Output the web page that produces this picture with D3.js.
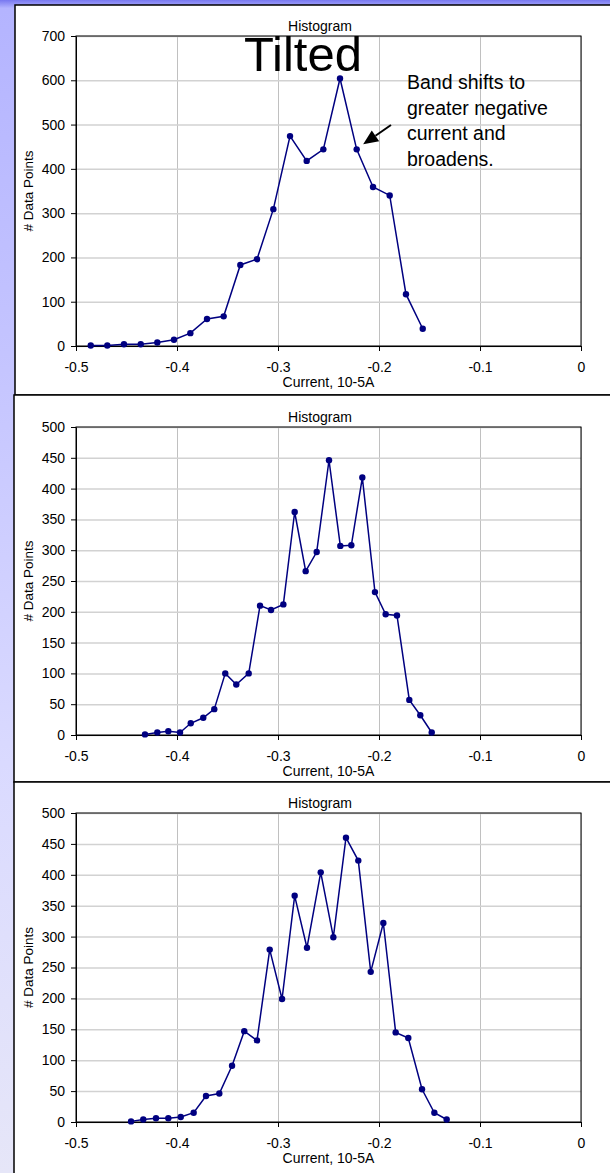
<!DOCTYPE html>
<html>
<head>
<meta charset="utf-8">
<script src="https://cdn.jsdelivr.net/npm/d3@7"></script>
<style>
  body { margin: 0; }
  svg text { font-family: "Liberation Sans", Arial, sans-serif; fill: #000; }
</style>
</head>
<body>
<svg width="610" height="1173"></svg>
<script>
// values
const xTicks = [-0.5, -0.4, -0.3, -0.2, -0.1, 0];
const xTickLabels = ['-0.5', '-0.4', '-0.3', '-0.2', '-0.1', '0'];
const yTicksTop = [0, 100, 200, 300, 400, 500, 600, 700];
const yTicksLower = [0, 50, 100, 150, 200, 250, 300, 350, 400, 450, 500];

const tiltedCurrent = [-0.4854, -0.469, -0.4525, -0.4359, -0.4195, -0.403, -0.3868, -0.3703,
  -0.3538, -0.3373, -0.3208, -0.3046, -0.2881, -0.2716, -0.2551, -0.2386, -0.2221, -0.2059,
  -0.1894, -0.1733, -0.1567];
const tiltedCounts = [1, 1, 4, 4, 8, 14, 29, 61, 67, 183, 196, 309, 474, 418, 444, 604, 444,
  359, 340, 117, 39];

const midCurrent = [-0.4317, -0.4195, -0.4086, -0.397, -0.3864, -0.374, -0.3631, -0.3522,
  -0.3413, -0.329, -0.3178, -0.3069, -0.2947, -0.2835, -0.2726, -0.2617, -0.2495, -0.2383,
  -0.2274, -0.2165, -0.204, -0.1934, -0.1822, -0.17, -0.1591, -0.1478];
const midCounts = [1, 4, 6, 4, 19, 28, 42, 100, 82, 100, 210, 203, 212, 362, 266, 297, 446,
  307, 308, 418, 232, 196, 194, 57, 32, 4];

const lowCurrent = [-0.4455, -0.4334, -0.4208, -0.4086, -0.3963, -0.3835, -0.3713, -0.3581,
  -0.3455, -0.3334, -0.3208, -0.3082, -0.296, -0.2835, -0.2713, -0.2577, -0.2452, -0.2327,
  -0.2205, -0.2082, -0.1957, -0.1835, -0.171, -0.1574, -0.1452, -0.133];
const lowCounts = [1, 4, 6, 6, 8, 15, 42, 46, 91, 147, 132, 279, 199, 366, 282, 404, 299, 460,
  423, 243, 322, 145, 136, 53, 15, 4];

const navy = '#000080';

const svg = d3.select('svg');

// slide background
const grad = svg.append('defs').append('linearGradient')
    .attr('id', 'bg')
    .attr('x1', 0).attr('y1', 0).attr('x2', 0).attr('y2', 1);
[[0, '#7878f0'], [0.007, '#b4b4ff'], [0.3, '#c4c4ff'], [0.65, '#dadaff'], [1, '#e6e6f8']]
  .forEach(([o, c]) => grad.append('stop').attr('offset', o).attr('stop-color', c));
svg.append('rect')
    .attr('width', 610).attr('height', 1173)
    .attr('fill', 'url(#bg)');

const histogramPanel = (parent, props) => {
  const { box, plot, xs, counts, yTicks } = props;
  const innerWidth = plot.right - plot.left;
  const innerHeight = plot.bottom - plot.top;

  const g = parent.append('g');

  g.append('rect')
      .attr('x', box.x).attr('y', box.y)
      .attr('width', box.w).attr('height', box.h)
      .attr('fill', '#fff')
      .attr('stroke', '#000')
      .attr('stroke-width', 1.5);

  const xScale = d3.scaleLinear()
    .domain([-0.5, 0])
    .range([plot.left, plot.right]);
  const yScale = d3.scaleLinear()
    .domain([0, d3.max(yTicks)])
    .range([plot.bottom, plot.top]);

  // gridlines
  g.append('g')
      .attr('transform', `translate(0,${plot.bottom})`)
      .call(d3.axisBottom(xScale).tickValues(xTicks).tickSize(-innerHeight).tickFormat(''))
      .call(s => s.select('.domain').remove())
      .selectAll('line')
        .attr('stroke', '#c0c0c0');
  g.append('g')
      .attr('transform', `translate(${plot.left},0)`)
      .call(d3.axisLeft(yScale).tickValues(yTicks).tickSize(-innerWidth).tickFormat(''))
      .call(s => s.select('.domain').remove())
      .selectAll('line')
        .attr('stroke', '#d2d2d2')
        .attr('stroke-width', 1.5);

  g.append('rect')
      .attr('x', plot.left).attr('y', plot.top)
      .attr('width', innerWidth).attr('height', innerHeight)
      .attr('fill', 'none')
      .attr('stroke', '#000');

  // axes
  const xAxisG = g.append('g')
      .attr('transform', `translate(0,${plot.bottom})`)
      .call(d3.axisBottom(xScale)
        .tickValues(xTicks)
        .tickFormat((d, i) => xTickLabels[i])
        .tickSize(5).tickSizeOuter(0)
        .tickPadding(11));
  const yAxisG = g.append('g')
      .attr('transform', `translate(${plot.left},0)`)
      .call(d3.axisLeft(yScale)
        .tickValues(yTicks)
        .tickSize(5).tickSizeOuter(0)
        .tickPadding(6));
  [xAxisG, yAxisG].forEach(a => {
    a.attr('font-family', null).attr('font-size', 14);
    a.selectAll('line, path').attr('stroke', '#000');
  });

  g.append('text')
      .attr('x', 320)
      .attr('y', plot.top - 5)
      .attr('text-anchor', 'middle')
      .attr('font-size', 14)
      .text('Histogram');

  g.append('text')
      .attr('x', (plot.left + plot.right) / 2)
      .attr('y', plot.bottom + 41)
      .attr('text-anchor', 'middle')
      .attr('font-size', 14)
      .text('Current, 10-5A');

  g.append('text')
      .attr('transform', `translate(28,${(plot.top + plot.bottom) / 2}) rotate(-90)`)
      .attr('dy', '0.35em')
      .attr('text-anchor', 'middle')
      .attr('font-size', 13.5)
      .text('# Data Points');

  // series
  const points = d3.zip(xs, counts);
  const line = d3.line()
    .x(d => xScale(d[0]))
    .y(d => yScale(d[1]));
  g.append('path')
      .datum(points)
      .attr('d', line)
      .attr('fill', 'none')
      .attr('stroke', navy)
      .attr('stroke-width', 1.5);
  g.selectAll('circle').data(points)
    .enter().append('circle')
      .attr('cx', d => xScale(d[0]))
      .attr('cy', d => yScale(d[1]))
      .attr('r', 3.2)
      .attr('fill', navy);

  return { g, xScale, yScale };
};

const topPanel = histogramPanel(svg, {
  box: { x: 15, y: 5, w: 600, h: 390 },
  plot: { left: 76, right: 581, top: 36, bottom: 346 },
  xs: tiltedCurrent, counts: tiltedCounts, yTicks: yTicksTop
});
histogramPanel(svg, {
  box: { x: 14, y: 395, w: 600, h: 387 },
  plot: { left: 76, right: 581, top: 427, bottom: 735 },
  xs: midCurrent, counts: midCounts, yTicks: yTicksLower
});
histogramPanel(svg, {
  box: { x: 14, y: 782, w: 600, h: 400 },
  plot: { left: 76, right: 581, top: 813, bottom: 1122 },
  xs: lowCurrent, counts: lowCounts, yTicks: yTicksLower
});

// slide annotations on the top chart
topPanel.g.append('text')
    .attr('x', 303)
    .attr('y', 71)
    .attr('text-anchor', 'middle')
    .attr('font-size', 49)
    .text('Tilted');

const note = topPanel.g.append('text')
    .attr('x', 407)
    .attr('y', 89)
    .attr('font-size', 19.5);
['Band shifts to', 'greater negative', 'current and', 'broadens.'].forEach((t, i) => {
  note.append('tspan')
      .attr('x', 407)
      .attr('dy', i === 0 ? 0 : 25.6)
      .text(t);
});

// arrow pointing at the point just right of the peak
const target = [topPanel.xScale(tiltedCurrent[16]), topPanel.yScale(tiltedCounts[16])];
const tip = [target[0] + 6.5, target[1] - 5];
const tail = [391, 125];
const dx = tip[0] - tail[0], dy = tip[1] - tail[1];
const len = Math.hypot(dx, dy);
const ux = dx / len, uy = dy / len;
const headLen = 15, headHalf = 6.5;
const base = [tip[0] - ux * headLen, tip[1] - uy * headLen];
topPanel.g.append('line')
    .attr('x1', tail[0]).attr('y1', tail[1])
    .attr('x2', base[0]).attr('y2', base[1])
    .attr('stroke', '#000')
    .attr('stroke-width', 2);
topPanel.g.append('path')
    .attr('d', d3.line()([
      tip,
      [base[0] - uy * headHalf, base[1] + ux * headHalf],
      [base[0] + uy * headHalf, base[1] - ux * headHalf]
    ]) + 'Z')
    .attr('fill', '#000');
</script>
</body>
</html>
